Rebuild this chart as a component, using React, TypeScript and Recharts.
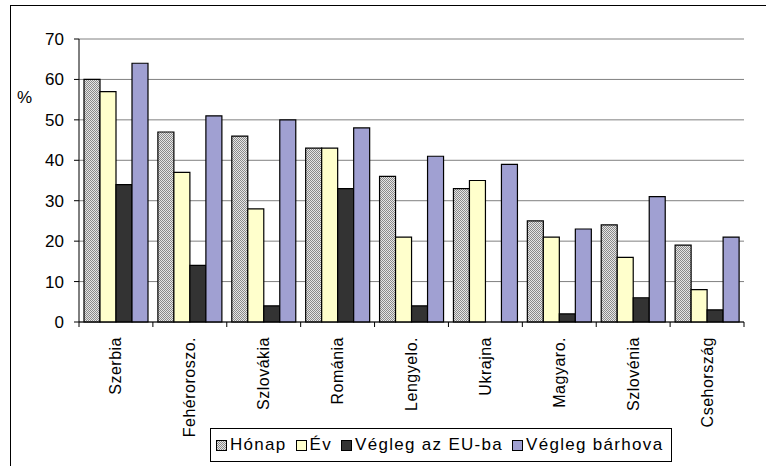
import { Bar, BarChart, CartesianGrid, XAxis, YAxis } from 'recharts'

const categories = ['Szerbia', 'Fehéroroszo.', 'Szlovákia', 'Románia', 'Lengyelo.', 'Ukrajna', 'Magyaro.', 'Szlovénia', 'Csehország']
const honap = [60, 47, 46, 43, 36, 33, 25, 24, 19]
const ev = [57, 37, 28, 43, 21, 35, 21, 16, 8]
const veglegEu = [34, 14, 4, 33, 4, 0, 2, 6, 3]
const veglegBarhova = [64, 51, 50, 48, 41, 39, 23, 31, 21]
const yTicks = [0, 10, 20, 30, 40, 50, 60, 70]

const series = [
  { key: 'honap', name: 'Hónap', fill: 'url(#dots)' },
  { key: 'ev', name: 'Év', fill: '#ffffcc' },
  { key: 'eu', name: 'Végleg az EU-ba', fill: '#333333' },
  { key: 'barhova', name: 'Végleg bárhova', fill: '#a0a0d2' },
]

const rows = categories.map((name, i) => ({
  name,
  honap: honap[i],
  ev: ev[i],
  eu: veglegEu[i],
  barhova: veglegBarhova[i],
}))

const font = 'Arial, "Liberation Sans", sans-serif'

function DotPattern({ id }: { id: string }) {
  return (
    <pattern id={id} width={2} height={2} patternUnits="userSpaceOnUse">
      <rect width={2} height={2} fill="#e6e6e6" />
      <rect width={1} height={1} fill="#8a8a8a" />
      <rect x={1} y={1} width={1} height={1} fill="#8a8a8a" />
    </pattern>
  )
}

// category label plus the little tick marks on the category borders
function CategoryTick(props: any) {
  const { x, y, payload, index, visibleTicksCount } = props
  const half = payload.offset || 0
  const axisY = y - 15
  return (
    <g>
      <line x1={x - half} x2={x - half} y1={axisY} y2={axisY + 5} stroke="#000" />
      {index === visibleTicksCount - 1 && (
        <line x1={x + half} x2={x + half} y1={axisY} y2={axisY + 5} stroke="#000" />
      )}
      <text
        x={x}
        y={y}
        transform={`rotate(-90, ${x}, ${y})`}
        textAnchor="end"
        dominantBaseline="central"
        fontSize={16}
        fontFamily={font}
        letterSpacing={0.5}
        fill="#000"
      >
        {payload.value}
      </text>
    </g>
  )
}

export default function App() {
  return (
    <div style={{ position: 'absolute', left: 0, top: 0, width: 766, height: 466, background: '#fff', fontFamily: font }}>
      <div
        style={{
          position: 'absolute',
          left: 10,
          top: 5,
          width: 760,
          height: 470,
          borderLeft: '1.5px solid #000',
          borderTop: '1.5px solid #000',
        }}
      />
      <div style={{ position: 'absolute', left: 17, top: 88, fontSize: 17 }}>%</div>
      <div style={{ position: 'absolute', left: 0, top: 0 }}>
        <BarChart
          width={766}
          height={466}
          data={rows}
          margin={{ top: 39, right: 22, left: 0, bottom: 0 }}
          barGap={0}
          barCategoryGap={5}
        >
          <defs>
            <DotPattern id="dots" />
          </defs>
          <CartesianGrid vertical={false} stroke="#808080" />
          <XAxis
            dataKey="name"
            height={144}
            interval={0}
            tickLine={false}
            tickSize={0}
            tickMargin={15}
            axisLine={{ stroke: '#000' }}
            tick={<CategoryTick />}
          />
          <YAxis
            width={79}
            domain={[0, 70]}
            ticks={yTicks}
            interval={0}
            tickSize={5}
            tickMargin={10}
            axisLine={{ stroke: '#000' }}
            tickLine={{ stroke: '#000' }}
            tick={{ fill: '#000', fontSize: 17, fontFamily: font }}
          />
          <YAxis
            yAxisId="frame"
            orientation="right"
            width={0}
            domain={[0, 70]}
            tick={false}
            tickLine={false}
            axisLine={{ stroke: '#404040', strokeWidth: 2 }}
          />
          {series.map((s) => (
            <Bar
              key={s.key}
              dataKey={s.key}
              name={s.name}
              fill={s.fill}
              stroke="#000"
              strokeWidth={1.2}
              isAnimationActive={false}
            />
          ))}
        </BarChart>
      </div>
      <div
        style={{
          position: 'absolute',
          left: 210,
          top: 428,
          width: 462,
          height: 34,
          border: '1px solid #000',
          boxSizing: 'border-box',
          display: 'flex',
          alignItems: 'center',
          paddingLeft: 5,
          fontSize: 17,
          letterSpacing: 1.3,
          whiteSpace: 'nowrap',
        }}
      >
        {series.map((s) => (
          <span key={s.key} style={{ display: 'inline-flex', alignItems: 'center', marginRight: 9 }}>
            <svg width={11} height={11} style={{ marginRight: 3 }}>
              <defs>
                <DotPattern id="dotsLegend" />
              </defs>
              <rect
                x={0.5}
                y={0.5}
                width={10}
                height={10}
                fill={s.fill === 'url(#dots)' ? 'url(#dotsLegend)' : s.fill}
                stroke="#000"
              />
            </svg>
            {s.name}
          </span>
        ))}
      </div>
    </div>
  )
}
